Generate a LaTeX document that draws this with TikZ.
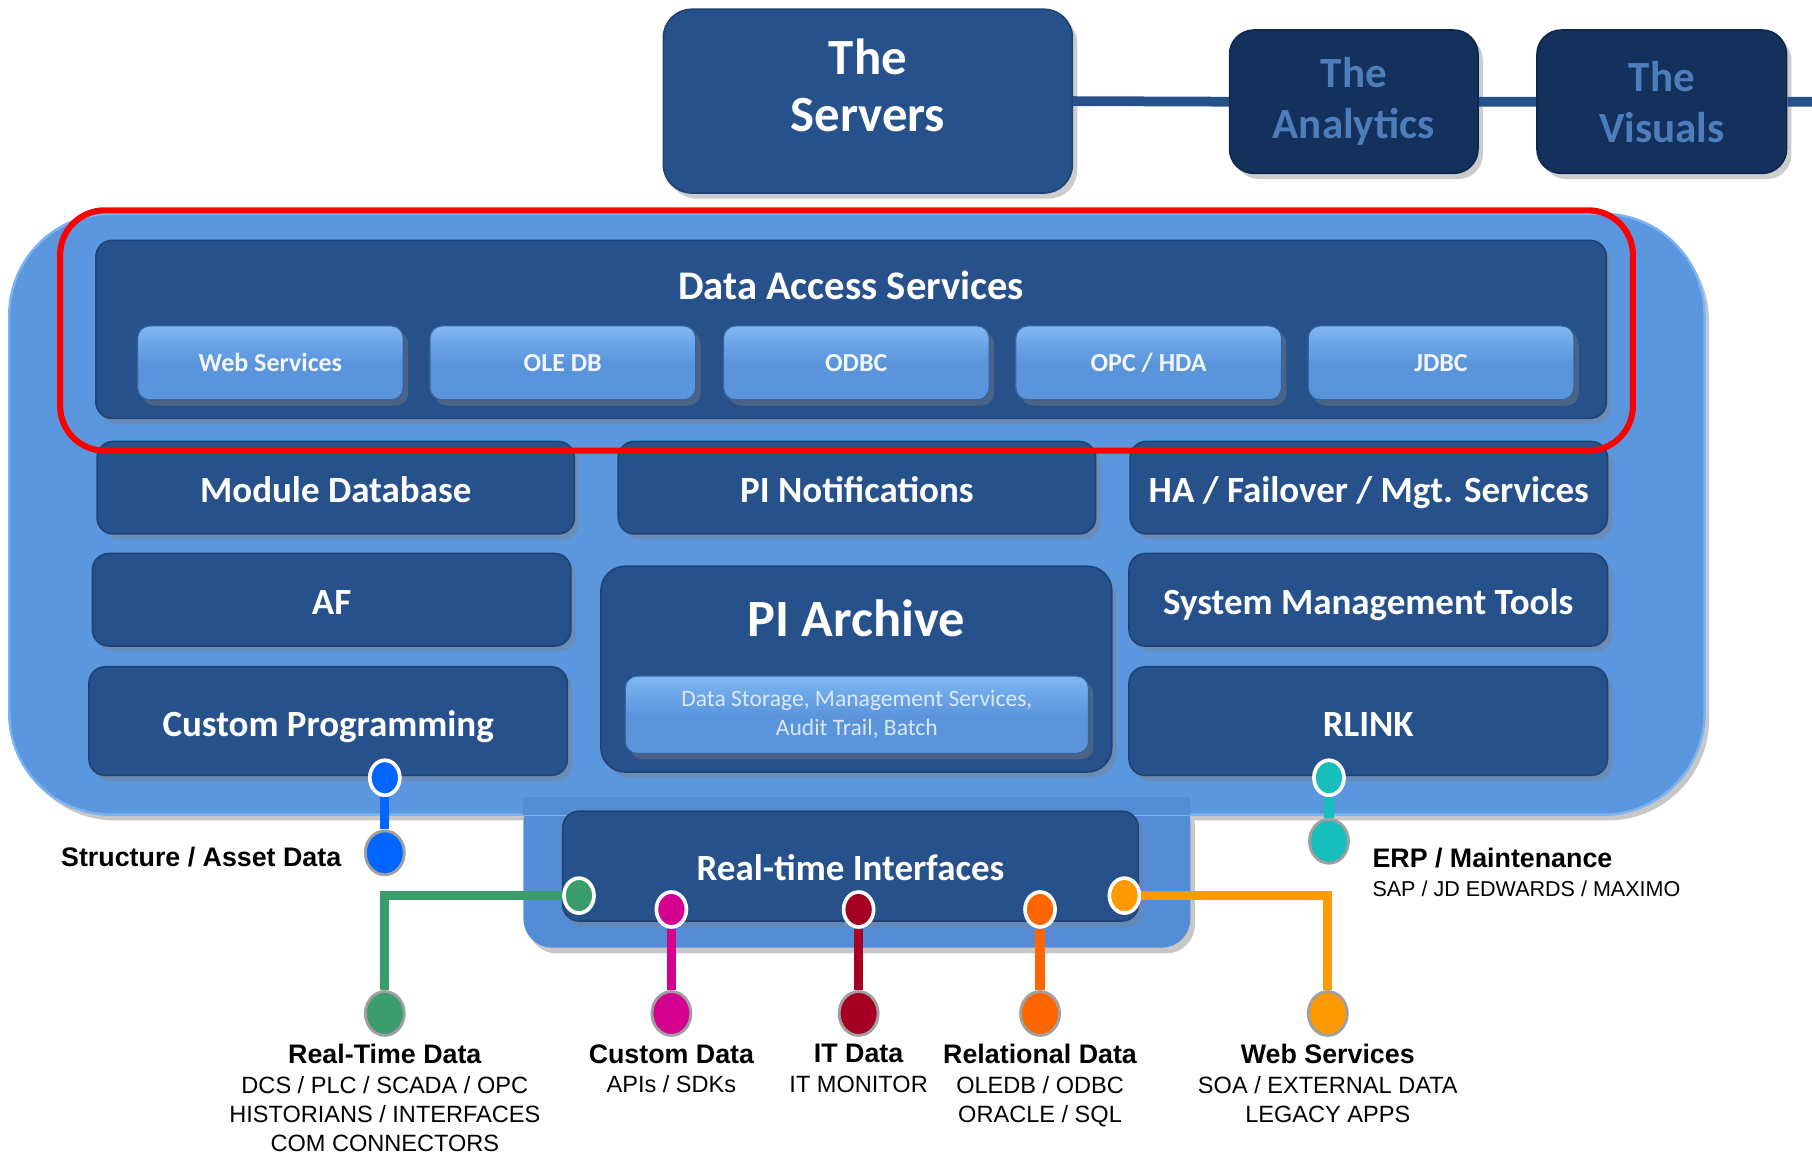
\documentclass[tikz,border=0pt]{standalone}
\usepackage{fontspec}
\setmainfont{Carlito}
\newfontfamily\labfont{Liberation Sans}
\usepackage{tikz}
\usetikzlibrary{shapes.geometric,shadows,positioning}
\definecolor{boxblue}{RGB}{39,81,138}
\definecolor{boxedge}{RGB}{31,67,116}
\definecolor{navy}{RGB}{19,49,92}
\definecolor{navytext}{RGB}{77,125,186}
\definecolor{panel}{RGB}{91,151,222}
\definecolor{panelhi}{RGB}{122,178,242}
\definecolor{panelbase}{RGB}{84,141,214}
\definecolor{btnblue}{RGB}{90,149,220}
\definecolor{btnhi}{RGB}{128,183,242}
\definecolor{archtext}{RGB}{218,232,250}
\definecolor{assetblue}{RGB}{0,102,255}
\definecolor{erpteal}{RGB}{23,190,187}
\definecolor{rtgreen}{RGB}{58,157,107}
\definecolor{custmag}{RGB}{213,0,143}
\definecolor{itred}{RGB}{165,0,33}
\definecolor{relorange}{RGB}{255,102,0}
\definecolor{webamber}{RGB}{255,153,0}
\newcommand{\lblhead}[1]{{\bfseries\fontsize{6.6}{7.2}\selectfont #1}}

\begin{document}
\begin{tikzpicture}[x=0.1mm,y=-0.1mm,
  boxshadow/.style={drop shadow={opacity=0.4,shadow xshift=1.2pt,shadow yshift=-1.4pt}},
  darkbox/.style={draw=boxedge,line width=0.4pt,fill=boxblue,rounded corners=4pt,boxshadow,
    text=white,text height=9.5pt,text depth=2pt,font=\bfseries\fontsize{9.1}{11}\selectfont},
  navybox/.style={draw=navy!80!black,line width=0.4pt,fill=navy,rounded corners=6pt,boxshadow,
    text=navytext,align=center,font=\bfseries\fontsize{10.6}{12.6}\selectfont},
  btn/.style={draw=boxedge!60!btnblue,line width=0.3pt,top color=btnhi,bottom color=btnblue,
    middle color=btnblue,rounded corners=3pt,boxshadow,minimum width=23mm,minimum height=6.4mm,
    text=white!92!btnblue,font=\bfseries\fontsize{6.4}{7.5}\selectfont},
  tip/.style={ellipse,minimum width=7.4pt,minimum height=8.6pt,inner sep=0pt,draw=white,line width=0.9pt},
  foot/.style={ellipse,minimum width=9.6pt,minimum height=10.8pt,inner sep=0pt,draw=gray!75,line width=0.7pt},
  wire/.style={line width=2.3pt},
  lab/.style={font=\labfont\fontsize{5.8}{7.2}\selectfont,align=center,inner sep=0pt}]
\useasboundingbox (0,0) rectangle (1568,998);

\fill[black!22] (12,190) [rounded corners=25pt] rectangle (1479,710);
\fill[black!22] (457,691) [rounded corners=7pt] rectangle (1034,825);
\fill[panelbase] (453,686) [rounded corners=7pt] rectangle (1030,820);
\filldraw[fill=panel,draw=panelhi,line width=0.6pt] (8,185) [rounded corners=25pt] rectangle (1475,705);
\fill[panelbase] (453,690) rectangle (1030,705);

\node[darkbox,minimum width=35.4mm,minimum height=15.9mm,rounded corners=7pt] (srv) at (751,87.5) {};
\node[text=white,align=center,font=\bfseries\fontsize{12.5}{14.2}\selectfont] (srvtxt) at (751,74) {The\\Servers};
\node[navybox,minimum width=21.5mm,minimum height=12.4mm] (ana) at (1171.5,88) {The\\Analytics};
\node[navybox,minimum width=21.6mm,minimum height=12.4mm] (vis) at (1438,88) {The\\Visuals};
\coordinate (rim) at (1568,88);
\draw[boxblue,line width=2.4pt] (srv.east) -- (ana.west) (ana.east) -- (vis.west) (vis.east) -- (rim);

\node[darkbox,minimum width=130.7mm,minimum height=15.4mm] (das) at (736.5,285) {};
\node[text=white,font=\bfseries\fontsize{10}{12}\selectfont] (dastxt) at (736.5,247) {Data Access Services};
\foreach \name/\x/\txt in {ws/234/Web Services, ole/487/OLE DB, odbc/741/ODBC, opc/994/{OPC / HDA}, jdbc/1247/JDBC}
  \node[btn] (\name) at (\x,314) {\txt};

\node[darkbox,minimum width=41.3mm,minimum height=8mm] (md) at (290.5,422) {Module Database};
\node[darkbox,minimum width=41.3mm,minimum height=8mm] (pin) at (741.5,422) {PI Notifications};
\node[darkbox,minimum width=41.3mm,minimum height=8mm] (ha) at (1184.5,422) {HA / Failover / Mgt. Services};
\node[darkbox,minimum width=41.4mm,minimum height=8mm] (af) at (287,519) {AF};
\node[darkbox,minimum width=41.4mm,minimum height=8mm] (smt) at (1184,519) {System Management Tools};
\node[darkbox,minimum width=41.4mm,minimum height=9.4mm] (cp) at (284,624) {Custom Programming};
\node[darkbox,minimum width=41.4mm,minimum height=9.4mm] (rlink) at (1184,624) {RLINK};

\node[darkbox,minimum width=44.2mm,minimum height=17.8mm,rounded corners=6pt] (arch) at (741,579) {};
\node[text=white,font=\bfseries\fontsize{12.9}{14}\selectfont] (archtxt) at (741,535) {PI Archive};
\node[btn,minimum width=40.1mm,minimum height=6.7mm,align=center,text=archtext,
  font=\fontsize{5.8}{7.1}\selectfont] (archin) at (741.5,618.5) {Data Storage, Management Services,\\Audit Trail, Batch};

\node[darkbox,minimum width=49.8mm,minimum height=9.5mm] (rti) at (736,749.5) {};
\node[text=white,font=\bfseries\fontsize{9.1}{11}\selectfont] (rtitxt) at (736,751) {Real-time Interfaces};

\draw[red,line width=1.5pt,rounded corners=11pt] (52,182) rectangle (1413,390);

\foreach \n/\c/\x/\y/\xx/\yy in {as/assetblue/333/673/333/738, erp/erpteal/1150/673/1150/728,
    cd/custmag/581/787/581/877, it/itred/743/787/743/877, rel/relorange/900/787/900/877}{
  \node[tip,fill=\c] (\n-tip) at (\x,\y) {};
  \node[foot,fill=\c] (\n-foot) at (\xx,\yy) {};
  \draw[wire,\c] (\n-tip) -- (\n-foot);
}
\node[tip,fill=rtgreen] (rt-tip) at (501,775) {};
\node[foot,fill=rtgreen] (rt-foot) at (333,877) {};
\draw[wire,rtgreen] (rt-tip) -| (rt-foot);
\node[tip,fill=webamber] (web-tip) at (973,775) {};
\node[foot,fill=webamber] (web-foot) at (1149,877) {};
\draw[wire,webamber] (web-tip) -| (web-foot);

\node[lab,anchor=east] (aslab) at (296,742) {\lblhead{Structure / Asset Data}};
\node[lab,anchor=north west,align=left] (erplab) at (1187,733) {\lblhead{ERP / Maintenance}\\{\fontsize{5.3}{7.2}\selectfont SAP / JD EDWARDS / MAXIMO}};
\node[lab,anchor=north] (rtlab) at (333,903) {\lblhead{Real-Time Data}\\DCS / PLC / SCADA / OPC\\HISTORIANS / INTERFACES\\COM CONNECTORS};
\node[lab,anchor=north] (cdlab) at (581,903) {\lblhead{Custom Data}\\APIs / SDKs};
\node[lab,anchor=north] (itlab) at (743,903) {\lblhead{IT Data}\\IT MONITOR};
\node[lab,anchor=north] (rellab) at (900,903) {\lblhead{Relational Data}\\OLEDB / ODBC\\ORACLE / SQL};
\node[lab,anchor=north] (weblab) at (1149,903) {\lblhead{Web Services}\\SOA / EXTERNAL DATA\\LEGACY APPS};
\end{tikzpicture}
\end{document}
